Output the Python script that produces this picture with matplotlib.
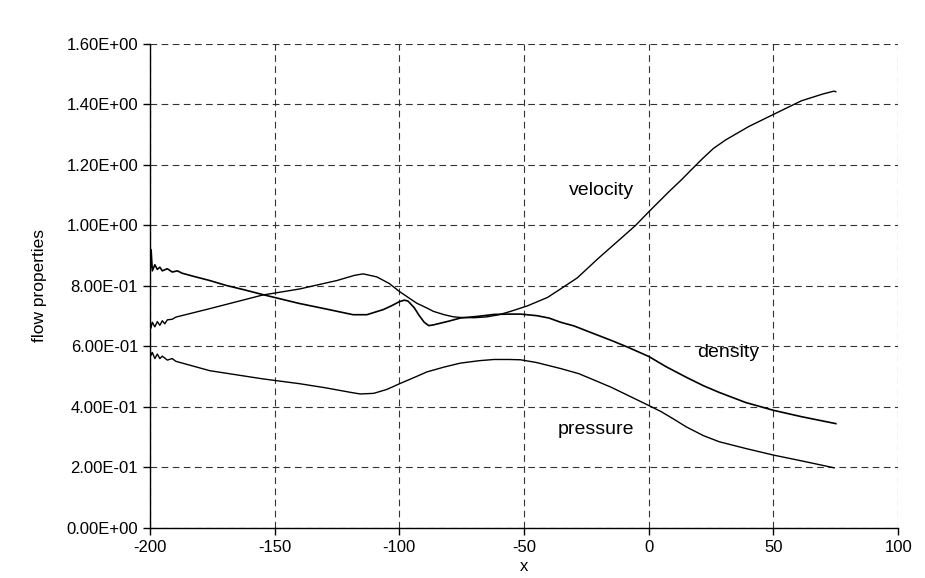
import matplotlib.pyplot as plt

plt.rcParams['font.family'] = ['Liberation Sans', 'DejaVu Sans']

# density curve
x_density = [-200, -199.8, -199.5, -199, -198, -197, -196, -195, -193, -191, -189, -187,
             -183, -176, -169.5, -162, -155, -140, -130, -118.5, -113, -106.4, -103,
             -100, -98, -96.5, -94, -92, -90, -88.2, -86.5, -84, -80, -75.5, -68, -62,
             -56, -51.4, -45, -40, -35.3, -30, -21.9, -15, -8.5, 0, 7, 15.1, 22, 28.3,
             38.8, 50, 61.2, 75]
y_density = [1.0, 0.86, 0.92, 0.85, 0.87, 0.855, 0.862, 0.85, 0.857, 0.846, 0.85, 0.842,
             0.833, 0.818, 0.802, 0.787, 0.772, 0.742, 0.725, 0.705, 0.705, 0.722, 0.735,
             0.748, 0.753, 0.75, 0.728, 0.702, 0.68, 0.669, 0.671, 0.676, 0.684, 0.694,
             0.70, 0.706, 0.707, 0.707, 0.702, 0.694, 0.68, 0.668, 0.642, 0.62, 0.598,
             0.567, 0.533, 0.498, 0.47, 0.448, 0.415, 0.389, 0.368, 0.345]

# velocity curve
x_velocity = [-200, -200, -199.6, -199, -198, -197, -196, -195, -194, -193, -191, -189.6,
              -176, -154.8, -140, -125, -118, -114.5, -109, -104, -100, -93, -88.9, -86.3,
              -82, -78.3, -75.5, -70, -64.8, -60, -55.4, -48.7, -40.6, -35, -28.6, -20.4,
              -12, -5.3, 0, 7.9, 13, 17.8, 21.7, 26, 30.9, 40.1, 50, 61.2, 70, 74.3, 75]
y_velocity = [0.52, 0.70, 0.66, 0.68, 0.665, 0.682, 0.67, 0.685, 0.675, 0.688, 0.69, 0.697,
              0.725, 0.77, 0.79, 0.818, 0.835, 0.84, 0.83, 0.808, 0.782, 0.743, 0.727, 0.716,
              0.705, 0.698, 0.696, 0.695, 0.698, 0.705, 0.716, 0.734, 0.762, 0.792, 0.827,
              0.89, 0.951, 1.0, 1.045, 1.11, 1.15, 1.19, 1.222, 1.255, 1.283, 1.327, 1.367,
              1.412, 1.435, 1.444, 1.442]

# pressure curve
x_pressure = [-200, -200, -199.6, -199, -198, -197, -196, -195, -193, -191, -189.6, -176,
              -154.8, -140, -130, -120, -115.7, -110.3, -105, -99.6, -95, -88.9, -82, -75.5,
              -68, -62.1, -56, -51.4, -45, -35.3, -28, -21.9, -15, -8.5, 0, 4.9, 10, 15.1,
              22, 28.3, 38.8, 50, 61.2, 74.3]
y_pressure = [0.52, 0.60, 0.57, 0.58, 0.56, 0.575, 0.56, 0.568, 0.555, 0.56, 0.551, 0.52,
              0.493, 0.477, 0.464, 0.449, 0.443, 0.445, 0.458, 0.478, 0.494, 0.516, 0.532,
              0.545, 0.553, 0.557, 0.557, 0.556, 0.547, 0.527, 0.51, 0.489, 0.465, 0.439,
              0.405, 0.385, 0.36, 0.334, 0.305, 0.285, 0.263, 0.241, 0.222, 0.199]

x_ticks = [-200, -150, -100, -50, 0, 50, 100]
y_ticks = [0, 0.2, 0.4, 0.6, 0.8, 1.0, 1.2, 1.4, 1.6]

fig = plt.figure(figsize=(9.25, 5.78), dpi=100)
ax = fig.add_axes([0.162, 0.0865, 0.809, 0.8375])

ax.plot(x_velocity, y_velocity, color='black', lw=1.0)
ax.plot(x_density, y_density, color='black', lw=1.2)
ax.plot(x_pressure, y_pressure, color='black', lw=1.0)

ax.text(-19, 1.117, 'velocity', fontsize=14, ha='center', va='center')
ax.text(32, 0.581, 'density', fontsize=14, ha='center', va='center')
ax.text(-21, 0.325, 'pressure', fontsize=14, ha='center', va='center')

ax.set_xlim(-200, 100)
ax.set_ylim(0, 1.6)
ax.set_xticks(x_ticks)
ax.set_yticks(y_ticks)
ax.set_xticklabels([str(t) for t in x_ticks])
ax.set_yticklabels(['%.2E' % t for t in y_ticks])
ax.tick_params(direction='out', length=5, width=1, labelsize=12, colors='black')
ax.grid(True, color='#333333', linestyle=(0, (6, 4)), linewidth=0.8)

for s in ['top', 'right']:
    ax.spines[s].set_visible(False)
for s in ['left', 'bottom']:
    ax.spines[s].set_linewidth(1.0)

ax.set_xlabel('x', fontsize=12, labelpad=3)
ax.set_ylabel('flow properties', fontsize=12.5, labelpad=14)

fig.savefig('out.png', dpi=100)
